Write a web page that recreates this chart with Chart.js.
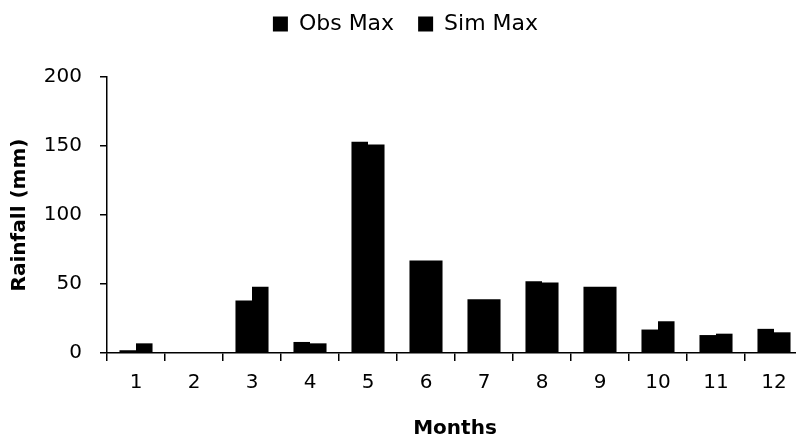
<!DOCTYPE html>
<html>
<head>
<meta charset="utf-8">
<script src="https://cdn.jsdelivr.net/npm/chart.js@4/dist/chart.umd.min.js"></script>
<style>
  html, body { margin: 0; padding: 0; background: #fff; overflow: hidden; }
  #wrap { position: relative; width: 806px; height: 441px; }
</style>
</head>
<body>
<div id="wrap"><canvas id="chart"></canvas></div>
<script>
// monthly maximum rainfall, observed vs simulated (mm)
const months = ['1', '2', '3', '4', '5', '6', '7', '8', '9', '10', '11', '12'];
const obsMax = [2, 0, 38, 8, 153, 67, 39, 52, 48, 17, 13, 17.5];
const simMax = [7, 0, 48, 7, 151, 67, 39, 51, 48, 23, 14, 15];
const yTicks = [0, 50, 100, 150, 200];

const FONT = "'DejaVu Sans', sans-serif";
const ink = '#000';

new Chart(document.getElementById('chart'), {
  type: 'bar',
  data: {
    labels: months,
    datasets: [
      { label: 'Obs Max', data: obsMax, backgroundColor: ink, borderWidth: 0 },
      { label: 'Sim Max', data: simMax, backgroundColor: ink, borderWidth: 0 }
    ]
  },
  options: {
    responsive: true,
    maintainAspectRatio: false,
    animation: false,
    datasets: { bar: { categoryPercentage: 0.57, barPercentage: 1 } },
    layout: { padding: { left: 8, right: 3, top: -11, bottom: 0 } },
    plugins: {
      legend: {
        position: 'top',
        weight: 1000,
        labels: {
          color: ink,
          font: { family: FONT, size: 22 },
          boxWidth: 15,
          boxHeight: 15,
          padding: 24
        }
      },
      // empty title used as a spacer between legend and plot
      title: {
        display: true,
        text: ' ',
        weight: 500,
        font: { size: 10 },
        padding: { top: 20, bottom: 0 }
      },
      tooltip: { enabled: false }
    },
    scales: {
      x: {
        afterFit: s => { s.height = 88; },
        grid: { display: true, drawOnChartArea: false, drawTicks: true, tickLength: 8, color: ink, lineWidth: 1.5 },
        border: { display: true, color: ink, width: 1.5 },
        ticks: { color: ink, font: { family: FONT, size: 20 }, padding: 10, maxRotation: 0 },
        title: { display: true, text: 'Months', color: ink, font: { family: FONT, size: 20, weight: 'bold' }, padding: { top: 0, bottom: 0 } }
      },
      y: {
        min: yTicks[0],
        max: yTicks[yTicks.length - 1],
        afterFit: s => { s.width = 99; },
        afterBuildTicks: s => { s.ticks = yTicks.map(v => ({ value: v })); },
        grid: { display: true, drawOnChartArea: false, drawTicks: true, tickLength: 7, color: ink, lineWidth: 1.5 },
        border: { display: true, color: ink, width: 1.5 },
        ticks: { color: ink, font: { family: FONT, size: 20 }, padding: 18 },
        title: { display: true, text: 'Rainfall (mm)', color: ink, font: { family: FONT, size: 20, weight: 'bold' }, padding: { top: 0, bottom: 0 } }
      }
    }
  }
});
</script>
</body>
</html>
